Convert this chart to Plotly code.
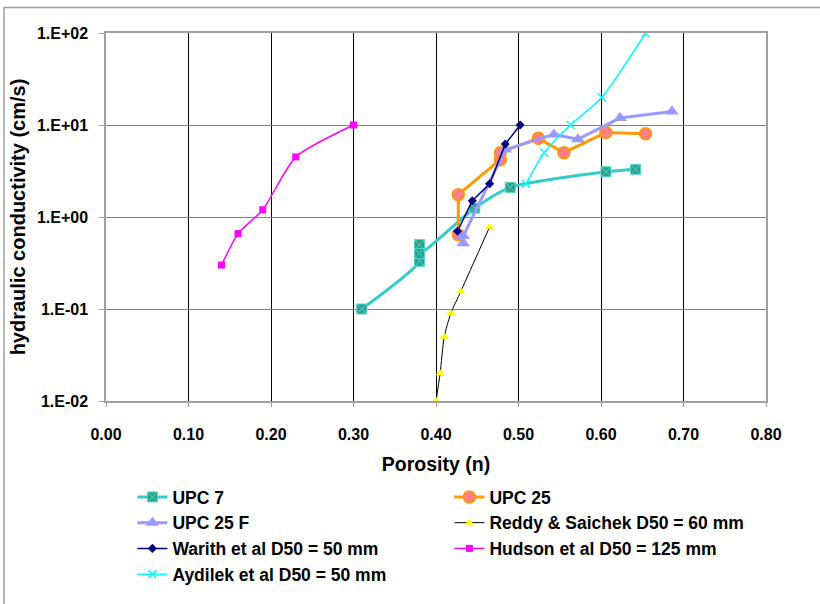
import plotly.graph_objects as go

# ---- data ----
upc7_n = [0.31, 0.38, 0.38, 0.38, 0.447, 0.49, 0.606, 0.642]
upc7_k = [0.10, 0.33, 0.50, 0.40, 1.25, 2.1, 3.1, 3.3]

upc25_n = [0.427, 0.427, 0.478, 0.478, 0.524, 0.555, 0.606, 0.654]
upc25_k = [0.64, 1.75, 4.2, 5.0, 7.2, 5.0, 8.3, 8.05]

upc25f_n = [0.433, 0.433, 0.484, 0.543, 0.572, 0.623, 0.686]
upc25f_k = [0.52, 0.62, 5.4, 7.9, 7.0, 11.9, 14.0]

reddy_n = [0.40, 0.405, 0.41, 0.418, 0.43, 0.465]
reddy_k = [0.01, 0.02, 0.05, 0.09, 0.155, 0.78]

warith_n = [0.426, 0.444, 0.465, 0.484, 0.502]
warith_k = [0.70, 1.5, 2.3, 6.2, 10.0]

hudson_n = [0.14, 0.16, 0.19, 0.23, 0.30]
hudson_k = [0.30, 0.66, 1.2, 4.5, 10.0]

aydilek_n = [0.509, 0.531, 0.563, 0.601, 0.654]
aydilek_k = [2.3, 5.0, 10.0, 20.0, 100.0]

y_tickvals = [0.01, 0.1, 1, 10, 100]
y_ticktext = ["1.E-02", "1.E-01", "1.E+00", "1.E+01", "1.E+02"]

FONT = "Liberation Sans, Arial, sans-serif"

fig = go.Figure()

fig.add_trace(go.Scatter(
    x=upc7_n, y=upc7_k, name="UPC 7", mode="lines+markers",
    line=dict(color="#33CCCC", width=3, shape="spline", smoothing=0.6),
    marker=dict(symbol="square-x", size=10, color="#2E9E84",
                line=dict(color="#4FD6D0", width=1))))
fig.add_trace(go.Scatter(
    x=upc25_n, y=upc25_k, name="UPC 25", mode="lines+markers",
    line=dict(color="#FF9900", width=3),
    marker=dict(symbol="circle", size=12, color="#FF8080",
                line=dict(color="#FF9900", width=1.5))))
fig.add_trace(go.Scatter(
    x=upc25f_n, y=upc25f_k, name="UPC 25 F", mode="lines+markers",
    line=dict(color="#9999FF", width=3),
    marker=dict(symbol="triangle-up", size=12, color="#9999FF")))
fig.add_trace(go.Scatter(
    x=reddy_n, y=reddy_k, name="Reddy & Saichek D50 = 60 mm", mode="lines+markers",
    line=dict(color="#000000", width=1, shape="spline", smoothing=0.6),
    marker=dict(symbol="triangle-up", size=8, color="#FFFF00")))
fig.add_trace(go.Scatter(
    x=warith_n, y=warith_k, name="Warith et al D50 = 50 mm", mode="lines+markers",
    line=dict(color="#000080", width=1.5),
    marker=dict(symbol="diamond", size=7, color="#000080")))
fig.add_trace(go.Scatter(
    x=hudson_n, y=hudson_k, name="Hudson et al D50 = 125 mm", mode="lines+markers",
    line=dict(color="#FF00FF", width=1.5, shape="spline", smoothing=0.6),
    marker=dict(symbol="square", size=7, color="#FF00FF")))
fig.add_trace(go.Scatter(
    x=aydilek_n, y=aydilek_k, name="Aydilek et al D50 = 50 mm", mode="lines+markers",
    line=dict(color="#00FFFF", width=1.5, shape="spline", smoothing=0.6),
    marker=dict(symbol="x-thin", size=8, color="#00FFFF",
                line=dict(color="#00FFFF", width=1.5))))

fig.update_layout(
    width=820, height=604,
    margin=dict(l=106, r=54, t=33, b=197),
    paper_bgcolor="white", plot_bgcolor="white",
    font=dict(family=FONT, color="black"),
    showlegend=True,
    legend=dict(orientation="h", x=0.04, y=-0.212, xanchor="left", yanchor="top",
                entrywidth=272, font=dict(size=17.5, weight="bold"),
                itemwidth=30, tracegroupgap=0, bgcolor="rgba(0,0,0,0)"),
    xaxis=dict(range=[0, 0.8], dtick=0.1, tick0=0, tickformat=".2f",
               showgrid=True, gridcolor="#000000", gridwidth=1,
               showline=True, mirror=True, linecolor="#A0A0A0", linewidth=1.5,
               ticks="outside", ticklen=4, tickcolor="#A0A0A0",
               ticklabelstandoff=14,
               tickfont=dict(size=16, weight="bold"), zeroline=False,
               title=dict(text="Porosity (n)", font=dict(size=19.5, weight="bold"),
                          standoff=15)),
    yaxis=dict(type="log", range=[-2, 2], tickvals=y_tickvals, ticktext=y_ticktext,
               showgrid=True, gridcolor="#808080", gridwidth=1,
               showline=True, mirror=True, linecolor="#A0A0A0", linewidth=1.5,
               ticks="outside", ticklen=5, tickcolor="#A0A0A0",
               ticklabelstandoff=8,
               tickfont=dict(size=16, weight="bold"), zeroline=False,
               title=dict(text="hydraulic conductivity (cm/s)",
                          font=dict(size=20, weight="bold"), standoff=6)),
    shapes=[dict(type="rect", xref="paper", yref="paper",
                 x0=-0.1545, x1=1.2, y0=-0.7, y1=1.0695,
                 line=dict(color="#A0A0A0", width=1.5), fillcolor="rgba(0,0,0,0)",
                 layer="below")],
)

fig.write_html("out.html")
